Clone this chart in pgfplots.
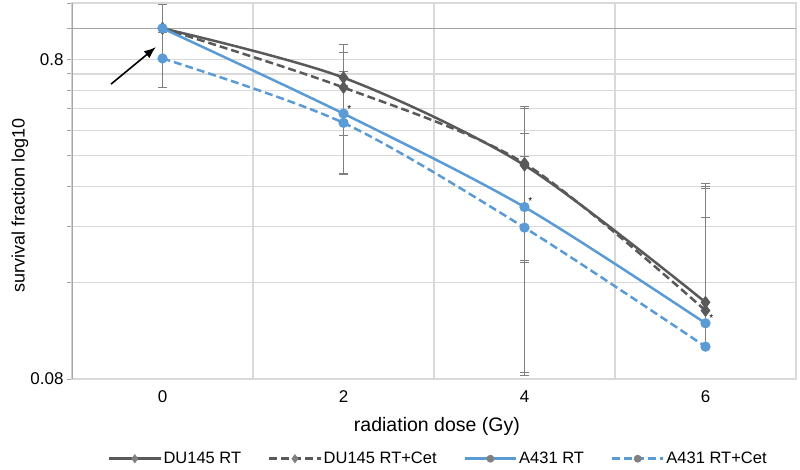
\documentclass[border=0pt]{standalone}
\usepackage{pgfplots}
\pgfplotsset{compat=1.18}
\usepackage{pgfplotstable}
\usetikzlibrary{arrows.meta}
\usepackage{fontspec}
\setmainfont{Liberation Sans}
\definecolor{dg}{HTML}{595959}
\definecolor{bl}{HTML}{5B9BD5}
\definecolor{gridc}{HTML}{D9D9D9}
\definecolor{axc}{HTML}{A6A6A6}
\definecolor{errc}{HTML}{7F7F7F}
\definecolor{legm}{HTML}{808080}

\pgfplotstableread{
x y ep em
0 1.0   0.19  0.19
2 0.701 0.188 0.188
4 0.373 0.188 0.188
6 0.139 0.188 0
}\duRT
\pgfplotstableread{
x y ep em
0 1.0   0.19  0.19
2 0.653 0.19  0.19
4 0.378 0.19  0.19
6 0.131 0.19  0
}\duRTC
\pgfplotstableread{
x y ep em
0 1.0    0.19  0.19
2 0.541  0.193 0.193
4 0.276  0.193 0.192
6 0.1195 0.195 0
}\aRT
\pgfplotstableread{
x y ep em
0 0.805 0.163 0.152
2 0.506 0.155 0.155
4 0.238 0.158 0.156
6 0.101 0.155 0
}\aRTC

\begin{document}
\begin{tikzpicture}
\useasboundingbox (-72pt,-90pt) rectangle (728pt,379pt);
\begin{axis}[
  at={(0,0)}, anchor=south west,
  scale only axis, width=724pt, height=376pt,
  xmin=-1, xmax=7, ymode=log, ymin=0.08, ymax=1.2,
  xtick={0,2,4,6}, xticklabels={0,2,4,6},
  minor xtick={1,3,5},
  xtick style={draw=none},
  xminorgrids=true,
  ytick={0.08,0.8}, yticklabels={0.08,0.8},
  minor ytick={0.16,0.24,0.32,0.4,0.48,0.56,0.64,0.72,1.2},
  extra y ticks={1}, extra y tick labels={},
  extra y tick style={ymajorgrids=true, major grid style={axc, line width=1.3pt}},
  ymajorgrids=true, yminorgrids=true,
  grid style={gridc, line width=1.2pt},
  minor grid style={gridc, line width=1.2pt},
  major grid style={gridc, line width=1.2pt},
  axis line style={gridc, line width=1.2pt},
  ytick pos=left, tick align=outside,
  ytick style={axc, line width=1pt},
  major tick length=5pt, minor tick length=5pt,
  ticklabel style={font=\fontsize{17}{18}\selectfont},
  xticklabel style={yshift=-3pt},
  xlabel={radiation dose (Gy)},
  ylabel={survival fraction log10},
  xlabel style={font=\fontsize{19.5}{20}\selectfont, at={(axis description cs:0.504,-0.125)}, anchor=center},
  ylabel style={font=\fontsize{18}{20}\selectfont, at={(axis description cs:-0.072,0.461)}, anchor=center},
  legend style={at={(axis description cs:0.506,-0.212)}, anchor=center, legend columns=4, draw=none,
    inner sep=0pt, nodes={inner ysep=1pt},
    font=\fontsize{16.5}{18}\selectfont,
    /tikz/every even column/.append style={column sep=25pt}},
  legend image code/.code={
    \draw[#1, mark options={solid, fill=legm, draw=legm}, mark size=2.6pt]
      plot[mark indices={2}] coordinates {(0pt,0pt) (25.5pt,0pt) (51pt,0pt)};
  },
  error bars/error bar style={errc, line width=1pt, solid},
  error bars/error mark options={rotate=90, errc, line width=1pt, mark size=4.5pt, solid},
]
\draw[axc, line width=1.2pt] (rel axis cs:0,0) -- (rel axis cs:0,1);

\addplot[dg, line width=2.5pt, smooth, mark=diamond*, mark size=4.5pt, mark options={solid, fill=dg, draw=dg},
  error bars/.cd, y dir=both, y explicit]
  table[x=x, y=y, y error plus=ep, y error minus=em] {\duRT};
\addlegendentry{DU145 RT}
\addplot[dg, line width=2.5pt, smooth, dash pattern=on 8pt off 4pt, mark=diamond*, mark size=4.5pt, mark options={solid, fill=dg, draw=dg},
  error bars/.cd, y dir=both, y explicit]
  table[x=x, y=y, y error plus=ep, y error minus=em] {\duRTC};
\addlegendentry{DU145 RT+Cet}
\addplot[bl, line width=2.5pt, smooth, mark=*, mark size=3.8pt, mark options={solid, fill=bl, draw=bl},
  error bars/.cd, y dir=both, y explicit]
  table[x=x, y=y, y error plus=ep, y error minus=em] {\aRT};
\addlegendentry{A431 RT}
\addplot[bl, line width=2.5pt, smooth, dash pattern=on 8pt off 4pt, mark=*, mark size=3.8pt, mark options={solid, fill=bl, draw=bl},
  error bars/.cd, y dir=both, y explicit]
  table[x=x, y=y, y error plus=ep, y error minus=em] {\aRTC};
\addlegendentry{A431 RT+Cet}

\node[font=\fontsize{10}{10}\selectfont, inner sep=0pt] at (axis cs:2.065,0.558) {*};
\node[font=\fontsize{10}{10}\selectfont, inner sep=0pt] at (axis cs:4.065,0.288) {*};
\node[font=\fontsize{10}{10}\selectfont, inner sep=0pt] at (axis cs:6.065,0.124) {*};

\draw[-{Latex[length=12pt,width=9pt]}, line width=1.6pt, black] (axis cs:-0.569,0.669) -- (axis cs:-0.072,0.874);
\end{axis}
\end{tikzpicture}
\end{document}
